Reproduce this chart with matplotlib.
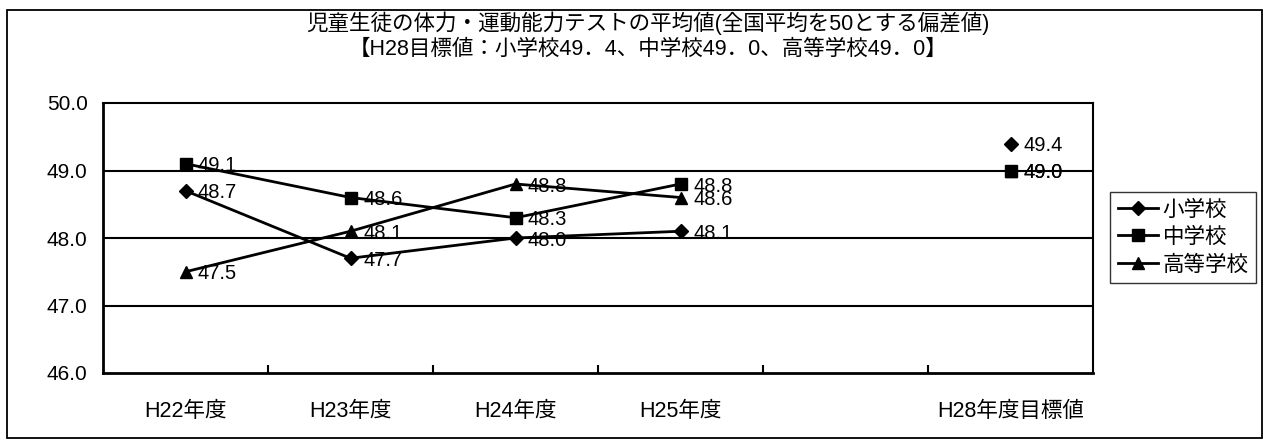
import numpy as np
import matplotlib
matplotlib.use("Agg")
import matplotlib.pyplot as plt
from matplotlib.patches import Rectangle

# Category axis: four survey years, an empty slot, then the H28 target
categories = ["H22年度", "H23年度", "H24年度", "H25年度", "", "H28年度目標値"]

elementary = [48.7, 47.7, 48.0, 48.1, np.nan, 49.4]
junior_high = [49.1, 48.6, 48.3, 48.8, np.nan, 49.0]
high_school = [47.5, 48.1, 48.8, 48.6, np.nan, 49.0]

series_names = ["小学校", "中学校", "高等学校"]
y_ticks = [46.0, 47.0, 48.0, 49.0, 50.0]

title_line1 = "児童生徒の体力・運動能力テストの平均値(全国平均を50とする偏差値)"
title_line2 = "【H28目標値：小学校49．4、中学校49．0、高等学校49．0】"

FONT = ["Liberation Sans", "Noto Sans CJK JP", "DejaVu Sans"]
plt.rcParams["font.family"] = FONT

W, H = 1266, 441
fig = plt.figure(figsize=(W / 100, H / 100), dpi=100)

# outer chart frame
fig.patches.append(Rectangle((7 / W, 3 / H), 1255 / W, 428 / H,
                             transform=fig.transFigure, fill=False,
                             edgecolor="black", linewidth=1.3))

ax = fig.add_axes([103 / W, 1 - 373 / H, 990 / W, 270 / H])

x = np.arange(len(categories))
markers = ["D", "s", "^"]
msizes = [7.5, 8.5, 8]
all_series = [elementary, junior_high, high_school]

for vals, name, mk, ms in zip(all_series, series_names, markers, msizes):
    vals = np.asarray(vals, dtype=float)
    ax.plot(x, vals, color="black", linewidth=2.0, marker=mk,
            markersize=ms, markerfacecolor="black", markeredgecolor="black",
            label=name, zorder=3)
    for xi, v in zip(x, vals):
        if np.isnan(v):
            continue
        ax.annotate(f"{v:.1f}", (xi, v), xytext=(9, -1.5),
                    textcoords="offset points", ha="left", va="center",
                    fontsize=14.5, color="black", zorder=4)

ax.set_xlim(-0.5, len(categories) - 0.5)
ax.set_ylim(46.0, 50.0)
ax.set_yticks(y_ticks)
ax.set_yticklabels([f"{t:.1f}" for t in y_ticks])
ax.tick_params(axis="y", length=0, pad=11, labelsize=15)

ax.set_xticks(x)
ax.set_xticklabels(categories)
ax.tick_params(axis="x", which="major", length=0, pad=20, labelsize=15.5)
ax.set_xticks(x[:-1] + 0.5, minor=True)
ax.tick_params(axis="x", which="minor", direction="in", length=6,
               width=1.5, color="black")

for t in y_ticks[1:-1]:
    ax.axhline(t, color="black", linewidth=1.5, zorder=1)

for side in ["left", "bottom"]:
    ax.spines[side].set_linewidth(2.0)
for side in ["top", "right"]:
    ax.spines[side].set_linewidth(1.5)

fig.text(648 / W, 1 - 23 / H, title_line1, ha="center", va="center",
         fontsize=15.5)
fig.text(648 / W, 1 - 49 / H, title_line2, ha="center", va="center",
         fontsize=15.5)

leg = fig.legend(loc="upper left", bbox_to_anchor=(1110 / W, 1 - 192 / H),
                 frameon=True, fancybox=False, fontsize=15.5,
                 handlelength=1.9, handletextpad=0.2, labelspacing=0.3,
                 borderpad=0.35, borderaxespad=0)
leg.get_frame().set_edgecolor("black")
leg.get_frame().set_linewidth(1.0)

fig.savefig("out.png", dpi=100)
